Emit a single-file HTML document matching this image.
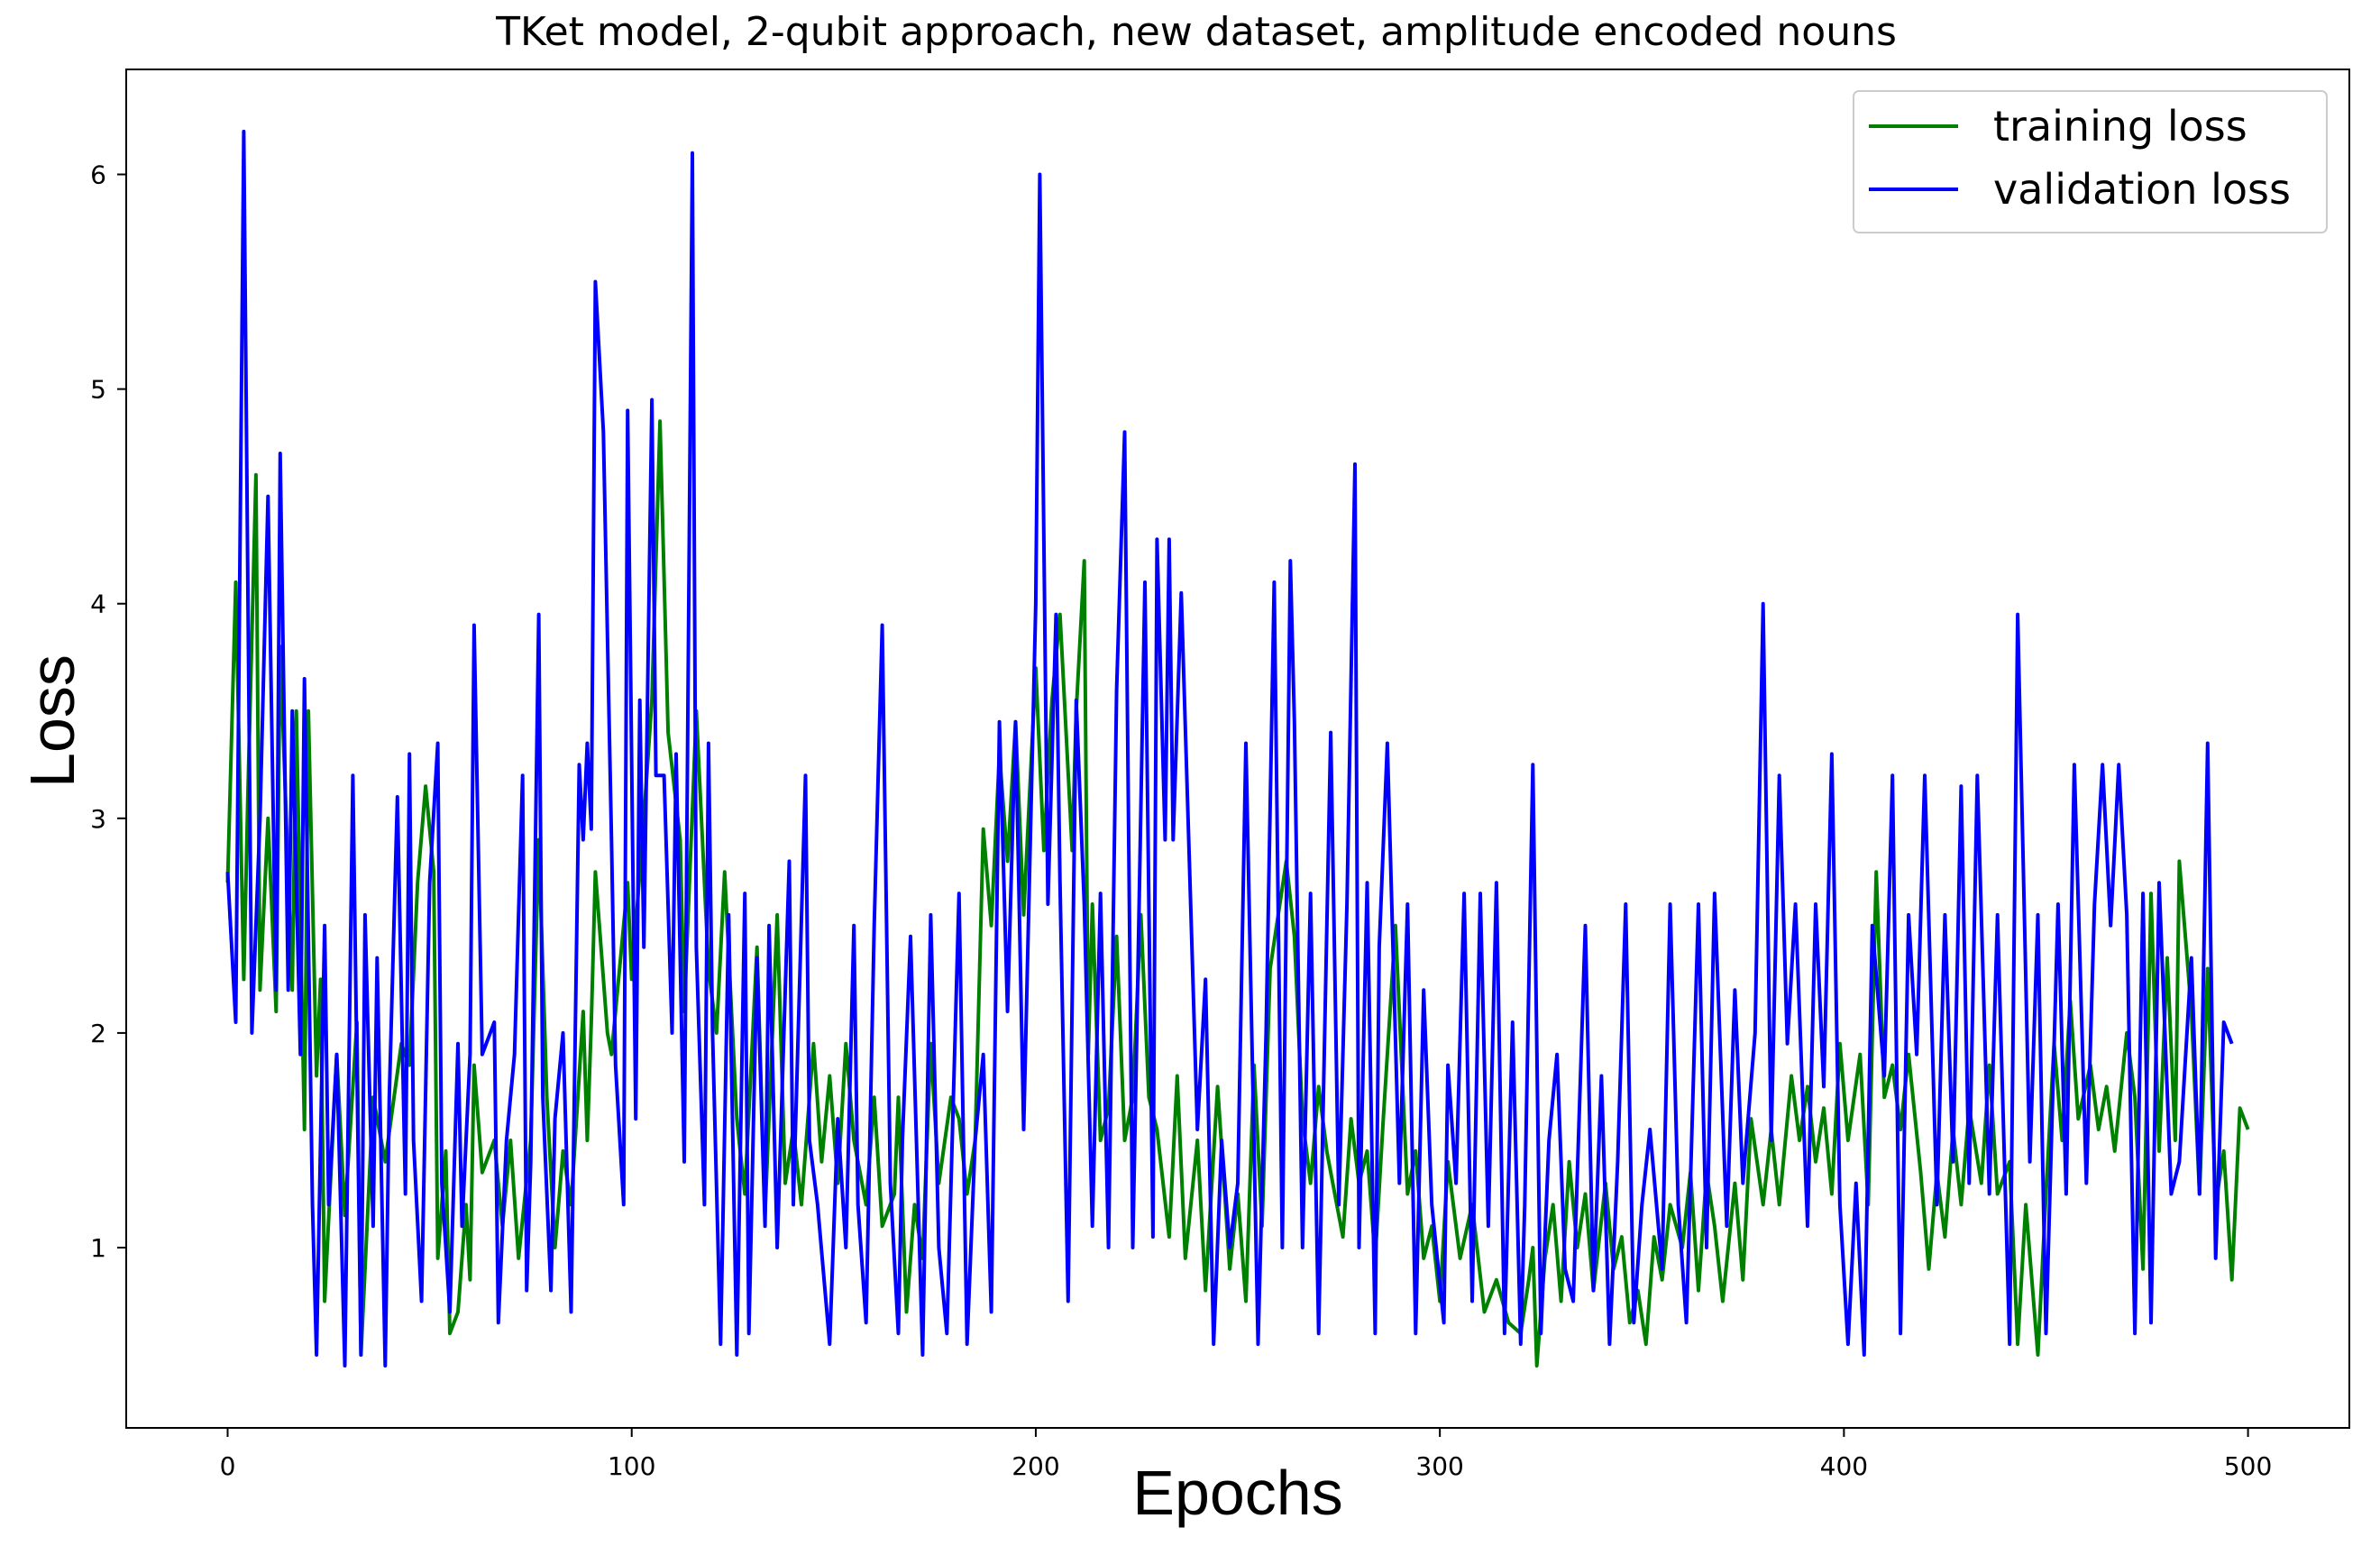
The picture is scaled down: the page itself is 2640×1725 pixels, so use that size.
<!DOCTYPE html>
<html><head><meta charset="utf-8"><style>
html,body{margin:0;padding:0;background:#fff;}
svg{display:block;font-family:"DejaVu Sans","Liberation Sans",sans-serif;}
.lib{font-family:"Liberation Sans","DejaVu Sans",sans-serif;}
</style></head><body>
<svg id="chart" width="2640" height="1725" viewBox="0 0 2640 1725" xmlns="http://www.w3.org/2000/svg">
<rect x="0" y="0" width="2640" height="1725" fill="#fff"/>
<text x="1327" y="50" font-size="44" text-anchor="middle" fill="#000">TKet model, 2-qubit approach, new dataset, amplitude encoded nouns</text>
<g id="plot"></g>
<rect x="140" y="77" width="2466" height="1507" fill="none" stroke="#000" stroke-width="2"/>
<g id="ticks"></g>
<text class="lib" x="1373" y="1680" font-size="70" text-anchor="middle" fill="#000">Epochs</text>
<text class="lib" transform="translate(82,800) rotate(-90)" font-size="70" text-anchor="middle" fill="#000">Loss</text>
<g>
<rect x="2056" y="101" width="525" height="157" rx="6" fill="#fff" stroke="#ccc" stroke-width="2"/>
<line x1="2073" y1="140" x2="2172" y2="140" stroke="#008000" stroke-width="4"/>
<text x="2211" y="156" font-size="46" fill="#000">training loss</text>
<line x1="2073" y1="210" x2="2172" y2="210" stroke="#0000ff" stroke-width="4"/>
<text x="2211" y="226" font-size="46" fill="#000">validation loss</text>
</g>
</svg>
<script>
const xTicks = [0,100,200,300,400,500];
const yTicks = [1,2,3,4,5,6];
const trainEpochs = [0,2,4,5,7,8,10,12,13,16,17,19,20,22,23,24,27,29,32,33,36,39,43,45,47,49,51,52,54,55,57,59,60,61,63,66,68,70,72,75,77,79,81,83,85,88,89,90,91,94,95,99,100,103,105,107,109,112,113,116,119,121,123,126,128,131,133,136,138,140,142,145,147,149,151,153,155,158,160,162,165,166,168,170,172,174,176,179,181,183,185,187,189,191,193,195,197,200,202,204,206,209,210,212,213,214,216,218,220,222,224,226,228,230,233,235,237,240,242,245,248,250,252,254,256,258,262,264,266,268,270,272,274,276,278,280,282,284,286,289,292,294,296,298,300,302,305,308,311,314,317,320,322,323,324,326,328,330,332,334,336,338,341,343,345,347,349,351,353,355,357,360,362,364,366,368,370,373,375,377,380,382,384,387,389,391,393,395,397,399,401,404,406,408,410,412,414,416,419,421,423,425,427,429,431,434,436,438,441,443,445,448,450,452,454,456,458,461,463,465,467,470,472,474,476,478,480,482,483,486,488,490,492,494,496,498,500];
const trainLoss = [2.7,4.1,2.25,3.1,4.6,2.2,3.0,2.1,3.8,2.2,3.5,1.55,3.5,1.8,2.25,0.75,1.9,1.15,2.05,0.5,1.7,1.4,1.95,1.85,2.7,3.15,2.75,0.95,1.45,0.6,0.7,1.2,0.85,1.85,1.35,1.5,1.1,1.5,0.95,1.5,2.9,1.7,1.0,1.45,1.2,2.1,1.5,2.05,2.75,2.0,1.9,2.7,2.25,3.0,3.55,4.85,3.4,2.9,2.1,3.5,2.3,2.0,2.75,1.6,1.25,2.4,1.15,2.55,1.3,1.55,1.2,1.95,1.4,1.8,1.3,1.95,1.5,1.2,1.7,1.1,1.25,1.7,0.7,1.2,0.95,1.95,1.3,1.7,1.6,1.25,1.5,2.95,2.5,3.3,2.8,3.45,2.55,3.7,2.85,3.55,3.95,2.85,3.5,4.2,1.9,2.6,1.5,1.65,2.45,1.5,1.7,2.55,1.7,1.55,1.05,1.8,0.95,1.5,0.8,1.75,0.9,1.25,0.75,1.85,1.1,2.3,2.8,2.45,1.6,1.3,1.75,1.45,1.25,1.05,1.6,1.3,1.45,0.95,1.6,2.5,1.25,1.45,0.95,1.1,0.75,1.4,0.95,1.2,0.7,0.85,0.65,0.6,0.85,1.0,0.45,0.95,1.2,0.75,1.4,1.0,1.25,0.8,1.3,0.9,1.05,0.65,0.8,0.55,1.05,0.85,1.2,1.0,1.35,0.8,1.35,1.1,0.75,1.3,0.85,1.6,1.2,1.55,1.2,1.8,1.5,1.75,1.4,1.65,1.25,1.95,1.5,1.9,1.2,2.75,1.7,1.85,1.55,1.9,1.35,0.9,1.35,1.05,1.55,1.2,1.65,1.3,1.85,1.25,1.4,0.55,1.2,0.5,1.25,1.95,1.5,2.15,1.6,1.85,1.55,1.75,1.45,2.0,1.7,0.9,2.65,1.45,2.35,1.5,2.8,2.1,1.25,2.3,1.2,1.45,0.85,1.65,1.55];
const valEpochs = [0,2,4,6,8,10,12,13,15,16,18,19,21,22,24,25,27,29,31,33,34,36,37,39,40,42,44,45,46,48,50,52,53,55,57,58,60,61,63,66,67,69,71,73,74,75,77,78,80,81,83,85,87,88,89,90,91,93,95,96,98,99,101,102,103,105,106,108,110,111,113,115,116,118,119,120,122,124,126,128,129,131,133,134,136,139,140,143,144,146,149,151,153,155,156,158,160,162,164,166,167,169,172,174,176,178,181,183,185,187,189,191,193,195,197,200,201,203,205,206,208,210,212,214,216,218,220,222,224,225,227,229,230,232,233,234,236,238,240,242,244,246,248,250,252,255,257,259,261,263,264,266,268,270,273,275,277,279,280,282,284,285,287,290,292,294,296,298,301,302,304,306,308,310,312,314,316,318,320,321,323,325,327,329,331,333,336,338,340,342,344,346,348,350,352,355,357,359,361,364,366,368,371,373,375,378,380,382,384,386,388,391,393,395,397,399,401,403,405,407,410,412,414,416,418,420,423,425,427,429,431,433,436,438,441,443,446,448,450,453,455,457,460,462,464,466,468,470,472,474,476,478,481,483,486,488,490,492,494,496,498,500];
const valLoss = [2.75,2.05,6.2,2.0,3.0,4.5,2.2,4.7,2.2,3.5,1.9,3.65,1.2,0.5,2.5,1.2,1.9,0.45,3.2,0.5,2.55,1.1,2.35,0.45,1.7,3.1,1.25,3.3,1.5,0.75,2.7,3.35,1.3,0.7,1.95,1.1,1.9,3.9,1.9,2.05,0.65,1.5,1.9,3.2,0.8,1.4,3.95,1.7,0.8,1.6,2.0,0.7,3.25,2.9,3.35,2.95,5.5,4.8,2.9,1.85,1.2,4.9,1.6,3.55,2.4,4.95,3.2,3.2,2.0,3.3,1.4,6.1,2.4,1.2,3.35,2.0,0.55,2.55,0.5,2.65,0.6,2.35,1.1,2.5,1.0,2.8,1.2,3.2,1.5,1.2,0.55,1.6,1.0,2.5,1.2,0.65,2.5,3.9,1.3,0.6,1.5,2.45,0.5,2.55,1.0,0.6,2.65,0.55,1.5,1.9,0.7,3.45,2.1,3.45,1.55,4.0,6.0,2.6,3.95,2.7,0.75,3.55,2.6,1.1,2.65,1.0,3.6,4.8,1.0,2.0,4.1,1.05,4.3,2.9,4.3,2.9,4.05,2.8,1.55,2.25,0.55,1.5,1.0,1.3,3.35,0.55,2.0,4.1,1.0,4.2,3.45,1.0,2.65,0.6,3.4,1.2,2.6,4.65,1.0,2.7,0.6,2.4,3.35,1.3,2.6,0.6,2.2,1.2,0.65,1.85,1.3,2.65,0.75,2.65,1.1,2.7,0.6,2.05,0.55,1.2,3.25,0.6,1.5,1.9,0.9,0.75,2.5,0.8,1.8,0.55,1.4,2.6,0.65,1.2,1.55,0.9,2.6,1.2,0.65,2.6,1.0,2.65,1.1,2.2,1.3,2.0,4.0,1.5,3.2,1.95,2.6,1.1,2.6,1.75,3.3,1.2,0.55,1.3,0.5,2.5,1.8,3.2,0.6,2.55,1.9,3.2,1.2,2.55,1.4,3.15,1.3,3.2,1.25,2.55,0.55,3.95,1.4,2.55,0.6,2.6,1.25,3.25,1.3,2.6,3.25,2.5,3.25,2.55,0.6,2.65,0.65,2.7,1.25,1.4,2.35,1.25,3.35,0.95,2.05,1.95];

const X0=252.5, X1=2493.6, YA=1384, YPER=238.1;
function xs(e){return X0+(X1-X0)*e/500;}
function ys(v){return YA-(v-1)*YPER;}
const NS='http://www.w3.org/2000/svg';
const plot=document.getElementById('plot');
const ticks=document.getElementById('ticks');
function line(xArr,yArr,color,name){
  const p=document.createElementNS(NS,'polyline');
  p.setAttribute('points',xArr.map((e,i)=>xs(e).toFixed(1)+','+ys(yArr[i]).toFixed(1)).join(' '));
  p.setAttribute('fill','none');p.setAttribute('stroke',color);p.setAttribute('stroke-width','4');
  p.setAttribute('stroke-linejoin','round');
  
  
  plot.appendChild(p);
}
line(trainEpochs,trainLoss,'#008000','training-loss-line');
line(valEpochs,valLoss,'#0000ff','validation-loss-line');
xTicks.forEach(t=>{
  const l=document.createElementNS(NS,'line');
  l.setAttribute('x1',xs(t));l.setAttribute('x2',xs(t));l.setAttribute('y1',1584);l.setAttribute('y2',1594);
  l.setAttribute('stroke','#000');l.setAttribute('stroke-width','2');
  
  
  ticks.appendChild(l);
  const tx=document.createElementNS(NS,'text');
  tx.setAttribute('x',xs(t));tx.setAttribute('y',1636);tx.setAttribute('font-size','28');tx.setAttribute('text-anchor','middle');
  tx.textContent=t;
  
  
  ticks.appendChild(tx);
});
yTicks.forEach(t=>{
  const l=document.createElementNS(NS,'line');
  l.setAttribute('x1',130);l.setAttribute('x2',140);l.setAttribute('y1',ys(t));l.setAttribute('y2',ys(t));
  l.setAttribute('stroke','#000');l.setAttribute('stroke-width','2');
  
  
  ticks.appendChild(l);
  const tx=document.createElementNS(NS,'text');
  tx.setAttribute('x',118);tx.setAttribute('y',ys(t)+10);tx.setAttribute('font-size','28');tx.setAttribute('text-anchor','end');
  tx.textContent=t;
  
  
  ticks.appendChild(tx);
});
</script>
</body></html>
